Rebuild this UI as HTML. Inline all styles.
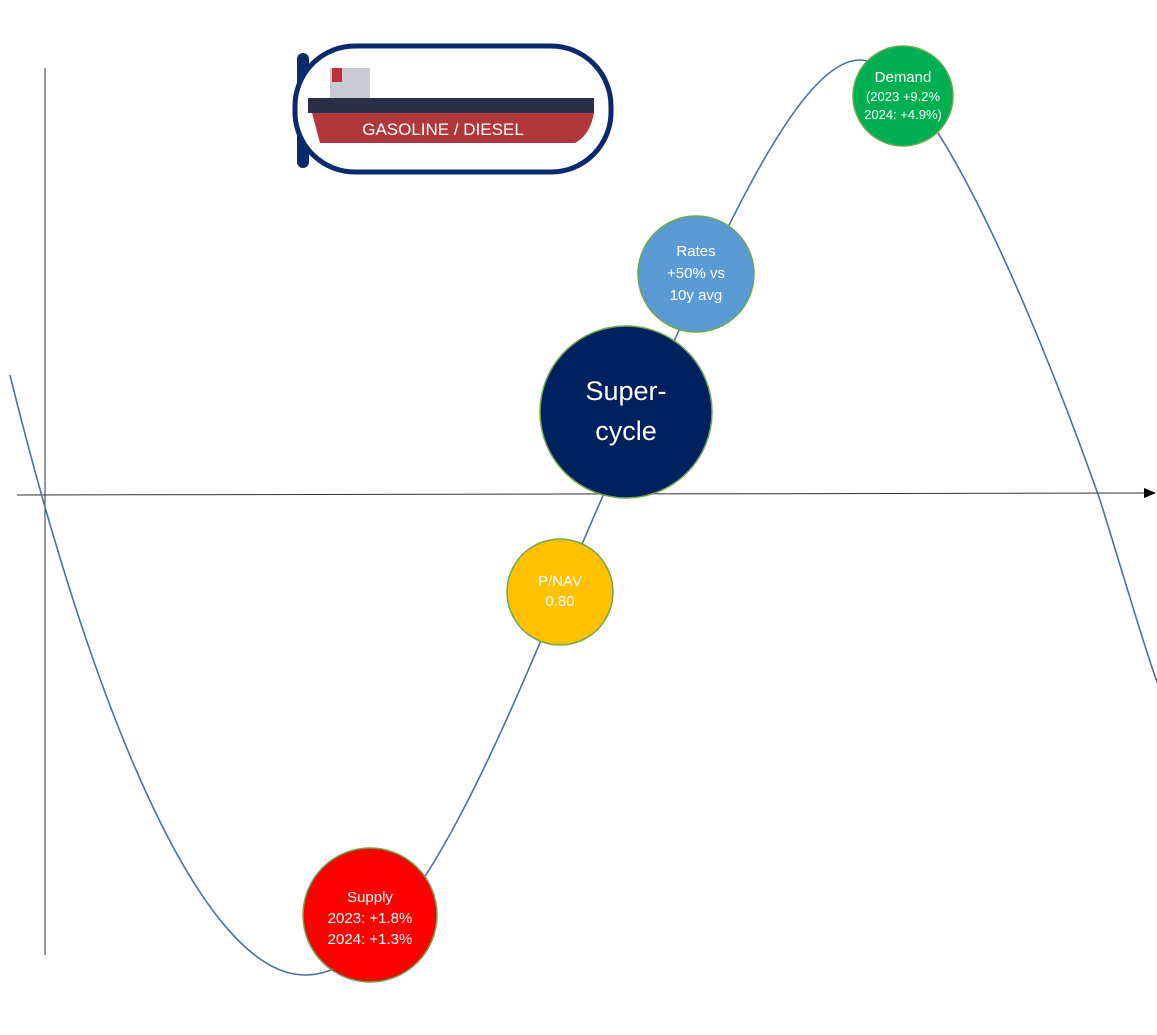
<!DOCTYPE html>
<html><head><meta charset="utf-8"><style>
body{margin:0;background:#fff;}
svg{display:block;font-family:"Liberation Sans",sans-serif;}
</style></head><body>
<svg width="1157" height="1035" viewBox="0 0 1157 1035">
<defs><marker id="ar" markerWidth="12" markerHeight="10" refX="11" refY="5" orient="auto" markerUnits="userSpaceOnUse"><path d="M0,0 L12,5 L0,10 Z" fill="#000"/></marker></defs>
<line x1="45" y1="68" x2="45" y2="955" stroke="#333" stroke-width="1"/>
<line x1="17" y1="495" x2="1155" y2="493" stroke="#333" stroke-width="1" marker-end="url(#ar)"/>
<path d="M10,375 C90,700 200,975 305,975 C420,975 520,680 610,480 C700,290 790,60 860,60 C930,60 1040,330 1100,500 C1125,580 1145,650 1160,690" fill="none" stroke="#4a72a0" stroke-width="1.6"/>
<!-- ship box -->
<rect x="297" y="53" width="12" height="115" rx="6" fill="#0a2a6e"/>
<rect x="295" y="46" width="316" height="126" rx="60" fill="#fff" stroke="#0a2a6e" stroke-width="5"/>
<rect x="330" y="68" width="40" height="32" fill="#c8ccd2"/>
<rect x="332" y="68" width="10" height="14" fill="#c0303a"/>
<rect x="308" y="98" width="286" height="15" fill="#2a2f45"/>
<path d="M312,113 L594,113 Q590,135 575,143 L320,143 Z" fill="#b0383a"/>
<text x="443" y="135" font-size="17" fill="#fff" text-anchor="middle">GASOLINE / DIESEL</text>
<!-- circles -->
<g stroke="#6aa84f" stroke-width="1.5">
<circle cx="903" cy="96" r="50" fill="#00b050"/>
<circle cx="696" cy="274" r="58" fill="#5b9bd5"/>
<circle cx="626" cy="412" r="86" fill="#002060"/>
<circle cx="560" cy="592" r="53" fill="#ffc000"/>
<circle cx="370" cy="915" r="67" fill="#ff0000"/>
</g>
<g fill="#fff" text-anchor="middle" font-size="15">
<text x="903" y="82">Demand</text>
<text x="903" y="101" font-size="13">(2023 +9.2%</text>
<text x="903" y="119" font-size="13">2024: +4.9%)</text>
<text x="696" y="256">Rates</text>
<text x="696" y="278">+50% vs</text>
<text x="696" y="300">10y avg</text>
<text x="626" y="400" font-size="27">Super-</text>
<text x="626" y="440" font-size="27">cycle</text>
<text x="560" y="586">P/NAV</text>
<text x="560" y="606">0.80</text>
<text x="370" y="902">Supply</text>
<text x="370" y="923">2023: +1.8%</text>
<text x="370" y="944">2024: +1.3%</text>
</g>
</svg>
</body></html>
